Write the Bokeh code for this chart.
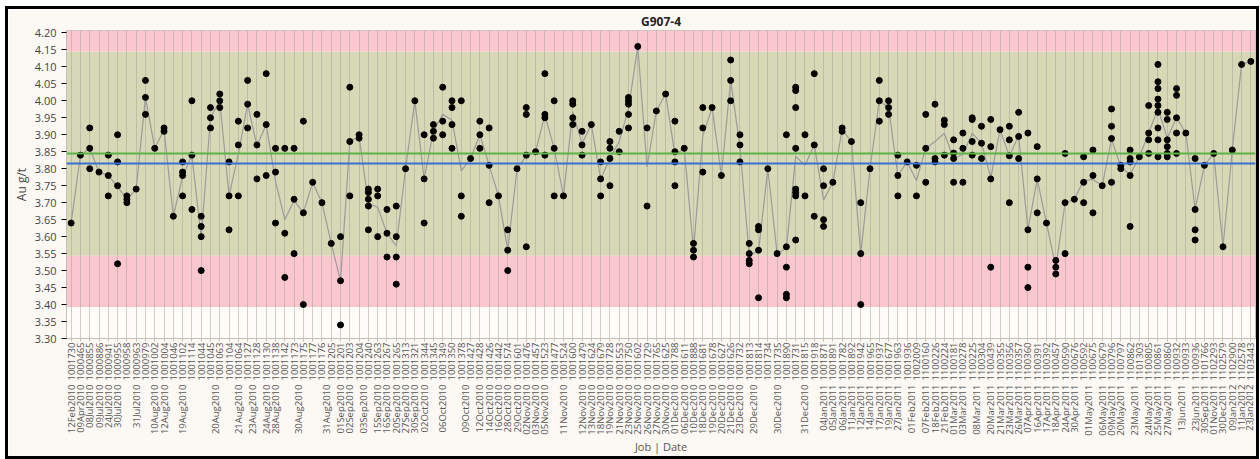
import math
from bokeh.plotting import figure
from bokeh.models import FactorRange, ColumnDataSource, Span, BoxAnnotation, FixedTicker, NumeralTickFormatter
from bokeh.embed import file_html
from bokeh.resources import INLINE

# Outer factor: sampling date, inner factor: job number (one column per job)
dates = (
    ["12Feb2010", "09Apr2010", "08Jul2010", "09Jul2010", "24Jul2010", "30Jul2010"]
    + ["31Jul2010"] * 3 + ["10Aug2010", "12Aug2010"] + ["19Aug2010"] * 3 + ["20Aug2010"] * 4
    + ["21Aug2010"] + ["23Aug2010"] * 2 + ["24Aug2010", "28Aug2010"] + ["30Aug2010"] * 4
    + ["31Aug2010"] * 2 + ["01Sep2010", "02Sep2010"] + ["03Sep2010"] * 2
    + ["15Sep2010", "16Sep2010", "20Sep2010", "27Sep2010", "30Sep2010", "02Oct2010"]
    + ["06Oct2010"] * 3 + ["09Oct2010"] * 2
    + ["12Oct2010", "14Oct2010", "16Oct2010", "28Oct2010", "29Oct2010", "02Nov2010", "03Nov2010", "05Nov2010"]
    + ["11Nov2010"] * 3
    + ["12Nov2010", "13Nov2010", "18Nov2010", "19Nov2010", "21Nov2010", "23Nov2010", "25Nov2010",
       "26Nov2010", "27Nov2010", "30Nov2010", "01Dec2010", "06Dec2010", "10Dec2010", "18Dec2010",
       "19Dec2010", "20Dec2010", "21Dec2010", "23Dec2010"]
    + ["29Dec2010"] * 2 + ["30Dec2010"] * 3 + ["31Dec2010"] * 3
    + ["04Jan2011", "05Jan2011", "06Jan2011", "11Jan2011", "12Jan2011", "14Jan2011", "17Jan2011",
       "19Jan2011", "27Jan2011"]
    + ["01Feb2011"] * 2 + ["07Feb2011", "18Feb2011", "21Feb2011", "01Mar2011", "03Mar2011"]
    + ["08Mar2011"] * 2
    + ["20Mar2011", "21Mar2011", "23Mar2011", "26Mar2011", "07Apr2011", "16Apr2011", "17Apr2011",
       "18Apr2011", "24Apr2011", "30Apr2011"]
    + ["01May2011"] * 2 + ["06May2011", "09May2011", "20May2011"] + ["23May2011"] * 2
    + ["24May2011", "25May2011", "27May2011"] + ["13Jun2011"] * 2
    + ["23Jun2011", "30Sep2011", "01Nov2011", "30Dec2011", "09Jan2012", "11Jan2012", "23Jan2012"]
)

jobs = [
    "1001730", "1000465", "1000855", "1000886", "1000941", "1000955", "1000958", "1000963", "1000979",
    "1001002", "1001004", "1001046", "1001102", "1001114", "1001044", "1001045", "1001063", "1001104",
    "1001064", "1001127", "1001128", "1001130", "1001138", "1001142", "1001173", "1001175", "1001177",
    "1001176", "1001205", "1001201", "1001203", "1001204", "1001240", "1001263", "1001267", "1001265",
    "1001313", "1001321", "1001344", "1001345", "1001349", "1001350", "1001378", "1001427", "1001428",
    "1001426", "1001442", "1001574", "1001601", "1001476", "1001457", "1001523", "1001477", "1001524",
    "1001600", "1001479", "1001624", "1001679", "1001728", "1001553", "1001750", "1001602", "1001729",
    "1001765", "1001625", "1001788", "1001611", "1001888", "1001681", "1001678", "1001627", "1001626",
    "1001732", "1001813", "1001814", "1001734", "1001735", "1001890", "1001731", "1001815", "1001918",
    "1001871", "1001891", "1001782", "1001892", "1001942", "1001965", "1001937", "1001677", "1001963",
    "1001936", "1002009", "1100160", "1100226", "1100224", "1100181", "1100278", "1100225", "1100304",
    "1100439", "1100355", "1100356", "1100357", "1100360", "1100391", "1100392", "1100457", "1100590",
    "1100676", "1100592", "1100675", "1100679", "1100796", "1100797", "1100862", "1101303", "1100805",
    "1100861", "1100860", "1100932", "1100933", "1100936", "1101766", "1102293", "1102579", "1102900",
    "1102578", "1103443",
]

# Au assays (g/t) for each job
au = [
    [3.64], [3.84], [3.92, 3.86, 3.80], [3.79], [3.84, 3.78, 3.72], [3.90, 3.82, 3.75, 3.52],
    [3.72, 3.71, 3.70], [3.74], [4.06, 4.01, 3.96], [3.86], [3.92, 3.91], [3.66],
    [3.82, 3.79, 3.78, 3.72], [4.00, 3.84, 3.68], [3.66, 3.63, 3.60, 3.50], [3.98, 3.95, 3.92],
    [4.02, 4.00, 3.98], [3.82, 3.72, 3.62], [3.94, 3.87, 3.72], [4.06, 3.99, 3.92], [3.96, 3.87, 3.77],
    [4.08, 3.93, 3.78], [3.86, 3.79, 3.64], [3.86, 3.61, 3.48], [3.86, 3.71, 3.55], [3.94, 3.67, 3.40],
    [3.76], [3.70], [3.58], [3.60, 3.47, 3.34], [4.04, 3.88, 3.72], [3.90, 3.89],
    [3.74, 3.73, 3.71, 3.69, 3.62], [3.74, 3.72, 3.60], [3.68, 3.61, 3.54], [3.69, 3.60, 3.54, 3.46],
    [3.80], [4.00], [3.90, 3.77, 3.64], [3.93, 3.91, 3.89], [4.04, 3.94, 3.90], [4.00, 3.98, 3.93, 3.86],
    [4.00, 3.72, 3.66], [3.83], [3.94, 3.90, 3.86], [3.92, 3.81, 3.70], [3.72], [3.62, 3.56, 3.50],
    [3.80], [3.98, 3.96, 3.84, 3.57], [3.85], [4.08, 3.96, 3.95, 3.84], [4.00, 3.86, 3.72], [3.72],
    [4.00, 3.99, 3.95, 3.93], [3.91, 3.87, 3.84], [3.93], [3.82, 3.77, 3.72], [3.88, 3.86, 3.83, 3.75],
    [3.91, 3.85], [4.01, 4.00, 3.99, 3.96, 3.92], [4.16], [3.92, 3.69], [3.97], [4.02],
    [3.94, 3.85, 3.82, 3.75], [3.86], [3.58, 3.56, 3.54], [3.98, 3.92, 3.79], [3.98], [3.78],
    [4.12, 4.06, 4.00], [3.90, 3.87, 3.82], [3.58, 3.55, 3.53, 3.52], [3.63, 3.62, 3.56, 3.42],
    [3.80], [3.55], [3.90, 3.57, 3.51, 3.43, 3.42], [4.04, 4.03, 3.98, 3.86, 3.74, 3.73, 3.72, 3.59],
    [3.90, 3.72], [4.08, 3.87, 3.66], [3.80, 3.75, 3.65, 3.63], [3.76], [3.92, 3.91], [3.88],
    [3.70, 3.55, 3.40], [3.80], [4.06, 4.00, 3.94], [4.00, 3.98, 3.96], [3.84, 3.78, 3.72], [3.82],
    [3.81, 3.72], [3.96, 3.86, 3.76], [3.99, 3.83, 3.82], [3.943, 3.93, 3.84],
    [3.885, 3.846, 3.83, 3.76], [3.905, 3.86, 3.76], [3.95, 3.945, 3.88, 3.84],
    [3.925, 3.875, 3.83], [3.945, 3.865, 3.77, 3.51], [3.915],
    [3.925, 3.885, 3.838, 3.70], [3.966, 3.895, 3.83], [3.905, 3.62, 3.51, 3.45],
    [3.865, 3.77, 3.67], [3.64], [3.53, 3.51, 3.49], [3.845, 3.70, 3.55], [3.71], [3.835, 3.76, 3.70],
    [3.855, 3.78, 3.67], [3.75], [3.976, 3.925, 3.889, 3.76], [3.81, 3.80],
    [3.855, 3.83, 3.82, 3.78, 3.63], [3.835], [3.986, 3.905, 3.885, 3.845],
    [4.107, 4.056, 4.036, 4.005, 3.986, 3.966, 3.92, 3.885, 3.835],
    [3.966, 3.945, 3.885, 3.865, 3.845, 3.835], [4.036, 4.016, 3.95, 3.905, 3.845], [3.905],
    [3.83, 3.68, 3.62, 3.59], [3.81], [3.845], [3.57], [3.855], [4.107], [4.116],
]

y_ticks = [round(3.30 + 0.05 * i, 2) for i in range(19)]
spec_low, spec_high = 3.544, 4.145
lower_limit = 3.393
target = 3.845
grand_mean = 3.815

factors = [(d, j) for d, j in zip(dates, jobs)]

pts_x, pts_y = [], []
for f, vals in zip(factors, au):
    for v in vals:
        pts_x.append(f)
        pts_y.append(v)
means = [sum(v) / len(v) for v in au]

FONT = "Open Sans"

p = figure(
    width=1248, height=447,
    x_range=FactorRange(*factors, factor_padding=0, group_padding=0, range_padding=0),
    y_range=(3.30, 4.207),
    output_backend="svg", toolbar_location=None,
    min_border_left=58, min_border_right=1, min_border_top=20, min_border_bottom=118,
    background_fill_color="#fefcf9", border_fill_color="#fcf9f4",
    styles={"outline": "3px solid #000000", "margin-left": "8px", "margin-top": "9px"},
)

p.title.text = "G907-4"
p.title.align = "center"
p.title.text_font = FONT
p.title.text_font_size = "12px"
p.title.text_font_style = "bold"
p.title.text_color = "#222222"
p.title.text_line_height = 1.0
p.title.standoff = 2

# Specification bands
p.add_layout(BoxAnnotation(bottom=spec_low, top=spec_high, fill_color="#d7d8b6", fill_alpha=1,
                           line_color=None, level="image"))
p.add_layout(BoxAnnotation(bottom=spec_high, fill_color="#f9c7cd", fill_alpha=1,
                           line_color=None, level="image"))
p.add_layout(BoxAnnotation(bottom=lower_limit, top=spec_low, fill_color="#f9c7cd", fill_alpha=1,
                           line_color=None, level="image"))

p.xgrid.grid_line_color = "#a9a89c"
p.xgrid.grid_line_alpha = 0.55
p.ygrid.grid_line_color = None
p.outline_line_color = "#c4c0b8"

p.add_layout(Span(location=target, dimension="width", line_color="#5cb445", line_width=2))
p.add_layout(Span(location=grand_mean, dimension="width", line_color="#3c6fd2", line_width=2))

p.line(x=factors, y=means, line_color="#9b9b9b", line_width=1.2)
src = ColumnDataSource(dict(x=pts_x, y=pts_y))
p.scatter("x", "y", source=src, size=6, color="#000000")

p.yaxis.ticker = FixedTicker(ticks=y_ticks)
p.yaxis.formatter = NumeralTickFormatter(format="0.00")
p.yaxis.axis_label = "Au g/t"
p.yaxis.axis_label_text_font = FONT
p.yaxis.axis_label_text_font_style = "normal"
p.yaxis.axis_label_text_font_size = "12px"
p.yaxis.axis_label_standoff = 2
p.yaxis.major_label_text_font = FONT
p.yaxis.major_label_text_font_size = "11px"
p.yaxis.major_label_text_color = "#444444"
p.yaxis.minor_tick_line_color = None
p.yaxis.major_tick_in = 0
p.yaxis.major_tick_out = 5
p.yaxis.axis_line_color = "#c4c0b8"

p.xaxis.axis_label = "Job | Date"
p.xaxis.axis_label_text_font = FONT
p.xaxis.axis_label_text_font_style = "normal"
p.xaxis.axis_label_text_font_size = "11px"
p.xaxis.axis_label_text_line_height = 1.0
p.xaxis.axis_label_text_color = "#555555"
p.xaxis.axis_label_standoff = 0
p.xaxis.major_label_standoff = 1
p.xaxis.major_label_orientation = math.pi / 2
p.xaxis.group_label_orientation = math.pi / 2
p.xaxis.major_label_text_font = FONT
p.xaxis.major_label_text_font_size = "9.5px"
p.xaxis.major_label_text_color = "#555555"
p.xaxis.group_text_font = FONT
p.xaxis.group_text_font_size = "9.5px"
p.xaxis.group_text_color = "#555555"
p.xaxis.group_text_font_style = "normal"
p.xaxis.separator_line_color = None
p.xaxis.axis_line_color = "#c4c0b8"
p.xaxis.major_tick_in = 0
p.xaxis.major_tick_out = 3
p.xaxis.major_tick_line_color = "#c4c0b8"

open("out.html", "w").write(file_html(p, INLINE))
